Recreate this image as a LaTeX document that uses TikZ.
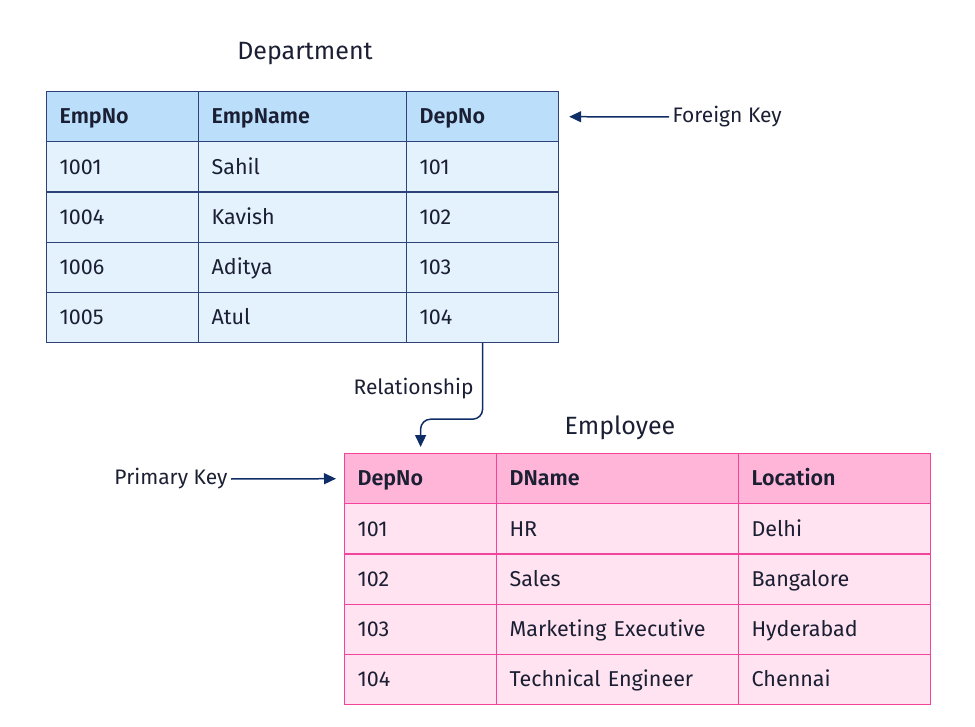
\documentclass[tikz,border=0pt]{standalone}
\usepackage{fontspec}
\setmainfont{Fira Sans}[BoldFont={Fira Sans SemiBold}]
\usetikzlibrary{positioning, arrows.meta}
\definecolor{deptHead}{HTML}{BBDEFB}
\definecolor{deptBody}{HTML}{E3F2FD}
\definecolor{deptLine}{HTML}{2E4277}
\definecolor{empHead}{HTML}{FFB5D8}
\definecolor{empBody}{HTML}{FFE3F0}
\definecolor{empLine}{HTML}{F2449B}
\definecolor{inkDark}{HTML}{1B1F33}
\definecolor{arrowBlue}{HTML}{0F2D66}
\tikzstyle{cell} = [rectangle, anchor=north west, minimum height=50.2pt, inner xsep=13pt,
inner ysep=0pt, align=left, text height=17pt, text depth=2.5pt, text=inkDark,
font=\fontsize{21.5}{25}\selectfont, line width=1.2pt]
\tikzstyle{deptcell} = [cell, draw=deptLine, fill=deptBody]
\tikzstyle{depthead} = [deptcell, fill=deptHead, font=\fontsize{21.5}{25}\selectfont\bfseries]
\tikzstyle{empcell} = [cell, draw=empLine, fill=empBody]
\tikzstyle{emphead} = [empcell, fill=empHead, font=\fontsize{21.5}{25}\selectfont\bfseries]
\tikzstyle{title} = [text=inkDark, font=\fontsize{25}{29}\selectfont]
\tikzstyle{note} = [text=inkDark, font=\fontsize{21}{25}\selectfont]
\tikzstyle{arrow} = [line width=1.5pt, draw=arrowBlue, -{Triangle[length=12pt, width=11pt]}]

\begin{document}
\begin{tikzpicture}[x=1pt, y=-1pt]
    \useasboundingbox (0,0) rectangle (975,727);

    % Department table
    \node (deptTitle) [title] at (305,54) {Department};
    \node (dh1) [depthead, minimum width=152pt, text width=126pt] at (46,91) {EmpNo};
    \node (dh2) [depthead, minimum width=208pt, text width=182pt] at (198,91) {EmpName};
    \node (dh3) [depthead, minimum width=152pt, text width=126pt] at (406,91) {DepNo};
    \foreach \a/\b/\c [count=\i] in {1001/Sahil/101, 1004/Kavish/102, 1006/Aditya/103, 1005/Atul/104} {
        \node (d\i c1) [deptcell, minimum width=152pt, text width=126pt] at (46,91+50.2*\i) {\a};
        \node (d\i c2) [deptcell, minimum width=208pt, text width=182pt] at (198,91+50.2*\i) {\b};
        \node (d\i c3) [deptcell, minimum width=152pt, text width=126pt] at (406,91+50.2*\i) {\c};
    }

    % Employee table
    \node (empTitle) [title] at (620,428) {Employee};
    \node (eh1) [emphead, minimum width=152pt, text width=126pt] at (344,453) {DepNo};
    \node (eh2) [emphead, minimum width=242pt, text width=216pt] at (496,453) {DName};
    \node (eh3) [emphead, minimum width=192pt, text width=166pt] at (738,453) {Location};
    \foreach \a/\b/\c [count=\i] in {101/HR/Delhi, 102/Sales/Bangalore, 103/Marketing Executive/Hyderabad, 104/Technical Engineer/Chennai} {
        \node (e\i c1) [empcell, minimum width=152pt, text width=126pt] at (344,453+50.2*\i) {\a};
        \node (e\i c2) [empcell, minimum width=242pt, text width=216pt] at (496,453+50.2*\i) {\b};
        \node (e\i c3) [empcell, minimum width=192pt, text width=166pt] at (738,453+50.2*\i) {\c};
    }

    % keys
    \node (foreignKey) [note, anchor=west] at (669,117) {Foreign Key};
    \node (primaryKey) [note, anchor=east] at (231,479) {Primary Key};

    \draw[arrow] (foreignKey.west) -- ([xshift=10pt]dh3.east);
    \draw[arrow] (primaryKey.east) -- ([xshift=-8pt]eh1.west);
    \draw[arrow, rounded corners=10pt] (d4c3.south) -- ++(0,76)
        node[note, pos=0.6, left=5pt] {Relationship} -| ([yshift=6pt]eh1.north);

\end{tikzpicture}
\end{document}
